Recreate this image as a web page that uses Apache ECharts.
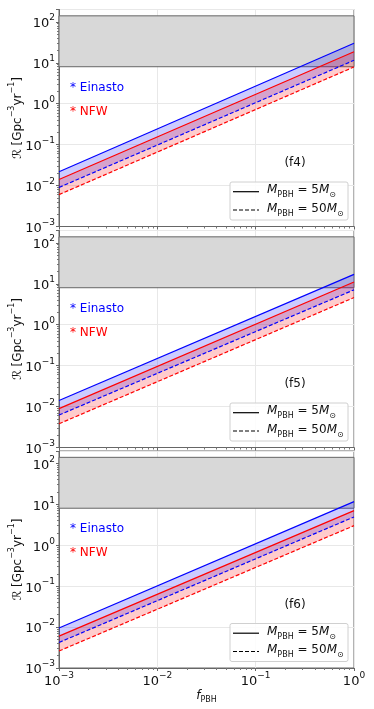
<!DOCTYPE html>
<html><head><meta charset="utf-8">
<script src="https://cdn.jsdelivr.net/npm/echarts@6/dist/echarts.min.js"></script>
<style>html,body{margin:0;padding:0;background:#fff}#c{width:374px;height:709px}</style>
</head><body><div id="c"></div>
<script>
// ---- data ----
const fPBH = [0.001, 1];
const panelNames = ['(f4)', '(f5)', '(f6)'];
const einasto5  = [[0.0218, 30], [0.0141, 17], [0.0095, 11.6]];
const einasto50 = [[0.0090, 11.5], [0.0062, 7.1], [0.0042, 4.9]];
const nfw5      = [[0.0141, 18.6], [0.0089, 11], [0.0060, 7.0]];
const nfw50     = [[0.0060, 7.9], [0.0038, 4.6], [0.0026, 3.0]];
const bandRange = [8, 140];

// ---- layout ----
const FONT = 'DejaVu Sans';
const gridTops = [9.5, 230.5, 451];
const gridH = 217, gridL = 59, gridW = 295;

function pow10Label(v) {
  const l = Math.log10(v), e = Math.round(l);
  if (Math.abs(l - e) > 1e-6) return '';
  return '{b|10}{s|' + (e < 0 ? '\u2212' + (-e) : e) + '}';
}
const tickRich = {
  b: {fontFamily: FONT, fontSize: 13, color: '#111', lineHeight: 17, verticalAlign: 'bottom'},
  s: {fontFamily: FONT, fontSize: 9, color: '#111', lineHeight: 9, verticalAlign: 'top'}
};

const grids = [], xAxes = [], yAxes = [], series = [], graphics = [];
for (let p = 0; p < 3; p++) {
  grids.push({left: gridL, top: gridTops[p], width: gridW, height: gridH, show: true,
    containLabel: false, outerBoundsMode: 'none',
    borderColor: '#666', borderWidth: 1, backgroundColor: 'transparent'});
  xAxes.push({type: 'log', logBase: 10, gridIndex: p, min: fPBH[0], max: fPBH[1],
    axisLine: {show: true, lineStyle: {color: '#666'}},
    axisTick: {show: true, inside: false, length: 3, lineStyle: {color: '#666'}},
    minorTick: {show: true, splitNumber: 9, length: 2, lineStyle: {color: '#777'}},
    splitLine: {show: true, lineStyle: {color: '#e8e8e8', width: 1}},
    axisLabel: {show: p === 2, formatter: pow10Label, rich: tickRich, margin: 3},
    name: p === 2 ? '{i|f}{sub|PBH}' : '', nameLocation: 'middle', nameGap: 22, nameMoveOverlap: false,
    nameTextStyle: {rich: {
      i: {fontFamily: FONT, fontStyle: 'italic', fontSize: 12, color: '#111', verticalAlign: 'top', lineHeight: 14},
      sub: {fontFamily: FONT, fontSize: 8, color: '#111', verticalAlign: 'bottom', lineHeight: 10}}}
  });
  yAxes.push({type: 'log', logBase: 10, gridIndex: p, min: 0.001, max: 200,
    axisLine: {show: true, lineStyle: {color: '#666'}},
    axisTick: {show: true, length: 3, lineStyle: {color: '#666'}},
    minorTick: {show: true, splitNumber: 9, length: 2, lineStyle: {color: '#777'}},
    splitLine: {show: true, lineStyle: {color: '#e8e8e8', width: 1}},
    axisLabel: {formatter: pow10Label, rich: tickRich, margin: 4, showMaxLabel: false},
    name: '{r|\u211B} {n|[Gpc}{s|\u22123}{n|yr}{s|\u22121}{n|]}', nameLocation: 'middle', nameGap: 35,
    nameRotate: 90, nameMoveOverlap: false,
    nameTextStyle: {rich: {
      r: {fontFamily: FONT, fontStyle: 'italic', fontSize: 12, color: '#111', lineHeight: 16, verticalAlign: 'bottom'},
      n: {fontFamily: FONT, fontSize: 12, color: '#111', lineHeight: 16, verticalAlign: 'bottom'},
      s: {fontFamily: FONT, fontSize: 8, color: '#111', lineHeight: 8, verticalAlign: 'top'}},
      fontFamily: FONT, fontSize: 12, color: '#111'}
  });

  // gray observational band
  series.push({type: 'line', xAxisIndex: p, yAxisIndex: p, data: [], silent: true,
    markArea: {silent: true, itemStyle: {color: '#d8d8d8', borderColor: '#666', borderWidth: 1},
      data: [[{xAxis: fPBH[0], yAxis: bandRange[0]}, {xAxis: fPBH[1], yAxis: bandRange[1]}]]}, z: 1});

  // shaded bands between 5 and 50 Msun lines
  const fills = [[einasto5[p], einasto50[p], 'rgba(0,0,255,0.2)'], [nfw5[p], nfw50[p], 'rgba(255,0,0,0.2)']];
  fills.forEach(([hi, lo, col]) => {
    series.push({type: 'custom', xAxisIndex: p, yAxisIndex: p, silent: true, z: 2,
      data: [[fPBH[0], hi[0]]],
      renderItem: (params, api) => {
        const pts = [api.coord([fPBH[0], hi[0]]), api.coord([fPBH[1], hi[1]]),
                     api.coord([fPBH[1], lo[1]]), api.coord([fPBH[0], lo[0]])];
        return {type: 'polygon', shape: {points: pts}, style: {fill: col, stroke: null}};
      }});
  });

  const lines = [[einasto5[p], '#0000ff', 'solid'], [einasto50[p], '#0000ff', [4, 2]],
                 [nfw5[p], '#ff0000', 'solid'], [nfw50[p], '#ff0000', [4, 2]]];
  lines.forEach(([vals, col, type]) => {
    series.push({type: 'line', xAxisIndex: p, yAxisIndex: p, silent: true, z: 3,
      showSymbol: false, symbol: 'none',
      data: fPBH.map((x, i) => [x, vals[i]]),
      lineStyle: {color: col, width: 1.2, type: type}});
  });

  const t = gridTops[p];
  graphics.push({type: 'text', left: 70, top: t + 72, style: {text: '* Einasto', fill: '#0000ff', font: '12px ' + FONT}});
  graphics.push({type: 'text', left: 70, top: t + 96, style: {text: '* NFW', fill: '#ff0000', font: '12px ' + FONT}});
  graphics.push({type: 'text', x: 295, y: t + 153.5, style: {text: panelNames[p], fill: '#111', font: '12px ' + FONT, align: 'center', verticalAlign: 'middle'}});
  // legend box
  graphics.push({type: 'rect', shape: {x: 230, y: t + 172.5, width: 118, height: 38, r: 2},
    style: {fill: 'rgba(255,255,255,0.85)', stroke: '#d0d0d0', lineWidth: 1}, z: 10});
  graphics.push({type: 'line', shape: {x1: 233, y1: t + 182.2, x2: 259, y2: t + 182.2}, style: {stroke: '#000', lineWidth: 1.2}, z: 11});
  graphics.push({type: 'line', shape: {x1: 233, y1: t + 200.5, x2: 259, y2: t + 200.5}, style: {stroke: '#000', lineWidth: 1.2, lineDash: [4, 2]}, z: 11});
  const legRich = {
    i: {fontFamily: FONT, fontStyle: 'italic', fontSize: 12, fill: '#111', verticalAlign: 'top', lineHeight: 15},
    sub: {fontFamily: FONT, fontSize: 8, fill: '#111', verticalAlign: 'bottom', lineHeight: 9},
    n: {fontFamily: FONT, fontSize: 12, fill: '#111', verticalAlign: 'top', lineHeight: 15}
  };
  graphics.push({type: 'text', x: 267, y: t + 182.2, z: 11, style: {text: '{i|M}{sub|PBH}{n| = 5}{i|M}{sub|\u2299}', rich: legRich, verticalAlign: 'middle'}});
  graphics.push({type: 'text', x: 267, y: t + 200.5, z: 11, style: {text: '{i|M}{sub|PBH}{n| = 50}{i|M}{sub|\u2299}', rich: legRich, verticalAlign: 'middle'}});
}

const chart = echarts.init(document.getElementById('c'), null, {renderer: 'canvas'});
chart.setOption({
  animation: false,
  backgroundColor: '#fff',
  textStyle: {fontFamily: FONT},
  grid: grids, xAxis: xAxes, yAxis: yAxes, series: series, graphic: graphics
});
</script></body></html>
